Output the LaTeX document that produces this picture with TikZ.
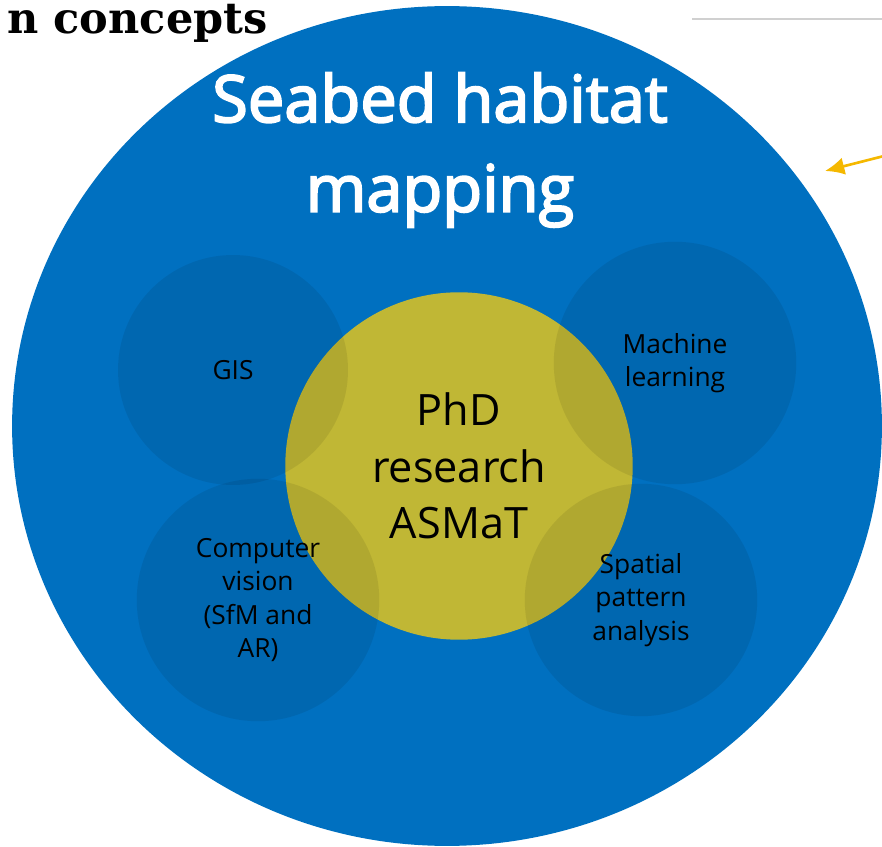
\documentclass[tikz,border=0pt]{standalone}
\usepackage{fontspec}
\setmainfont{Open Sans}
\newfontfamily\titlefont{Open Sans}[FakeBold=3]
\newfontfamily\headfont{DejaVu Serif}
\usetikzlibrary{shapes.geometric,arrows.meta}
\definecolor{seablue}{HTML}{0070C0}
\definecolor{phdyellow}{HTML}{C0B735}
\definecolor{arrowgold}{HTML}{F5B800}
\definecolor{rulegray}{HTML}{D0D0D0}

\begin{document}
\begin{tikzpicture}[x=0.02cm,y=-0.02cm,
    topic/.style={circle,fill=black,fill opacity=0.08,text opacity=1,
      align=center,font=\fontsize{15}{19}\selectfont},
    core/.style={circle,fill=phdyellow,minimum size=6.95cm,align=center,
      font=\fontsize{24.6}{32.3}\selectfont}]
          %\draw[very thin,lightgray] (0,0) grid[step=50] (882,847);
          \useasboundingbox (0,0) rectangle (882,847);
          \clip (0,0) rectangle (882,847);
          \node[ellipse,fill=seablue,minimum width=17.4cm,minimum height=16.8cm] (habitat) at (447,426) {};
          \node[white,align=center,font=\titlefont\fontsize{37}{51}\selectfont] (title) at (440,150) {Seabed habitat\\mapping};
          \node[core] (phd) at (459,466) {PhD\\research\\ASMaT};
          \node[topic,minimum size=4.6cm] (gis) at (233,370) {GIS};
          \node[topic,minimum size=4.85cm] (ml) at (675,363) {Machine\\learning};
          \node[topic,minimum size=4.85cm] (cv) at (258,600) {Computer\\vision\\(SfM and\\AR)};
          \node[topic,minimum size=4.65cm] (spa) at (641,600) {Spatial\\pattern\\analysis};
          \node[anchor=base east,inner xsep=0pt,font=\headfont\bfseries\fontsize{24.5}{30}\selectfont] (heading) at (268,34) {n concepts};
          \coordinate (rulel) at (692,19);
          \coordinate (ruler) at (882,19);
          \draw[rulegray,line width=1.5pt] (rulel)--(ruler);
          \coordinate (arrowtail) at (884,156);
          \coordinate (arrowtip) at (825,171);
          \draw[arrowgold,line width=1.5pt,-{Latex[length=11pt,width=10pt]}] (arrowtail)--(arrowtip);
        \end{tikzpicture}
\end{document}
